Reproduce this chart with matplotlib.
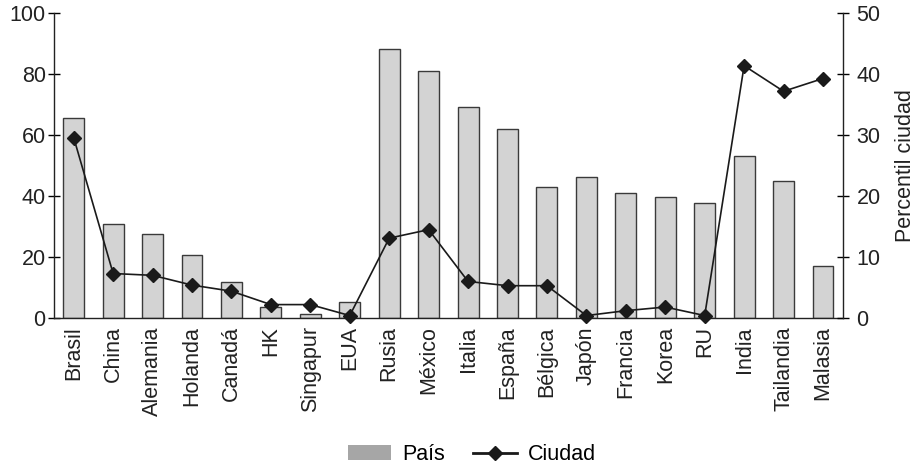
import numpy as np
import matplotlib.pyplot as plt
from matplotlib.patches import Patch
from matplotlib.lines import Line2D

plt.rcParams['font.family'] = ['Liberation Sans', 'DejaVu Sans']

# Data
paises = ['Brasil', 'China', 'Alemania', 'Holanda', 'Canadá', 'HK', 'Singapur',
          'EUA', 'Rusia', 'México', 'Italia', 'España', 'Bélgica', 'Japón',
          'Francia', 'Korea', 'RU', 'India', 'Tailandia', 'Malasia']
pais_vals = [65.7, 31.0, 27.7, 20.7, 11.9, 3.6, 1.4, 5.3, 88.3, 81.2, 69.2,
             62.1, 42.9, 46.4, 41.0, 39.6, 37.7, 53.3, 44.8, 17.2]
ciudad_vals = [29.6, 7.3, 7.0, 5.4, 4.4, 2.2, 2.2, 0.4, 13.1, 14.5, 6.0,
               5.3, 5.3, 0.4, 1.2, 1.8, 0.4, 41.4, 37.2, 39.3]

fs = 15.5
x = np.arange(len(paises))

fig = plt.figure(figsize=(9.15, 4.7), dpi=100)
ax = fig.add_axes([0.059, 0.3234, 0.862, 0.6483])

ax.bar(x, pais_vals, width=0.53, color='#d3d3d3', edgecolor='#3a3a3a',
       linewidth=1.0, zorder=2)
ax.set_xlim(-0.5, len(paises) - 0.5)
ax.set_ylim(0, 100)
ax.set_yticks([0, 20, 40, 60, 80, 100])
ax.set_xticks(x)
ax.set_xticklabels(paises, rotation=90, fontsize=fs, color='#222222')
ax.tick_params(axis='x', length=0, pad=6)
ax.tick_params(axis='y', direction='inout', length=8, width=1,
               labelsize=fs, labelcolor='#222222', pad=2)
ax.spines['top'].set_visible(False)
ax.spines['right'].set_visible(False)
for s in ['left', 'bottom']:
    ax.spines[s].set_color('#222222')
    ax.spines[s].set_linewidth(1.0)

ax2 = ax.twinx()
ax2.plot(x, ciudad_vals, color='#1a1a1a', linewidth=1.2, marker='D',
         markersize=7, markerfacecolor='#1a1a1a', markeredgecolor='#1a1a1a',
         zorder=3, clip_on=False)
ax2.set_ylim(0, 50)
ax2.set_yticks([0, 10, 20, 30, 40, 50])
ax2.tick_params(axis='y', direction='inout', length=8, width=1,
                labelsize=fs, labelcolor='#222222', pad=6)
ax2.set_ylabel('Percentil ciudad', fontsize=fs, color='#222222', labelpad=10)
for s in ['top', 'left', 'bottom']:
    ax2.spines[s].set_visible(False)
ax2.spines['right'].set_color('#222222')
ax2.spines['right'].set_linewidth(1.0)

handles = [Patch(facecolor='#a6a6a6', edgecolor='none'),
           Line2D([], [], color='#1a1a1a', marker='D', markersize=7,
                  linewidth=2)]
fig.legend(handles, ['País', 'Ciudad'], loc='center', ncol=2,
           bbox_to_anchor=(0.516, 0.032), frameon=False, fontsize=fs,
           handlelength=2.0, columnspacing=1.3, handletextpad=0.55)

fig.savefig('out.png', dpi=100)
